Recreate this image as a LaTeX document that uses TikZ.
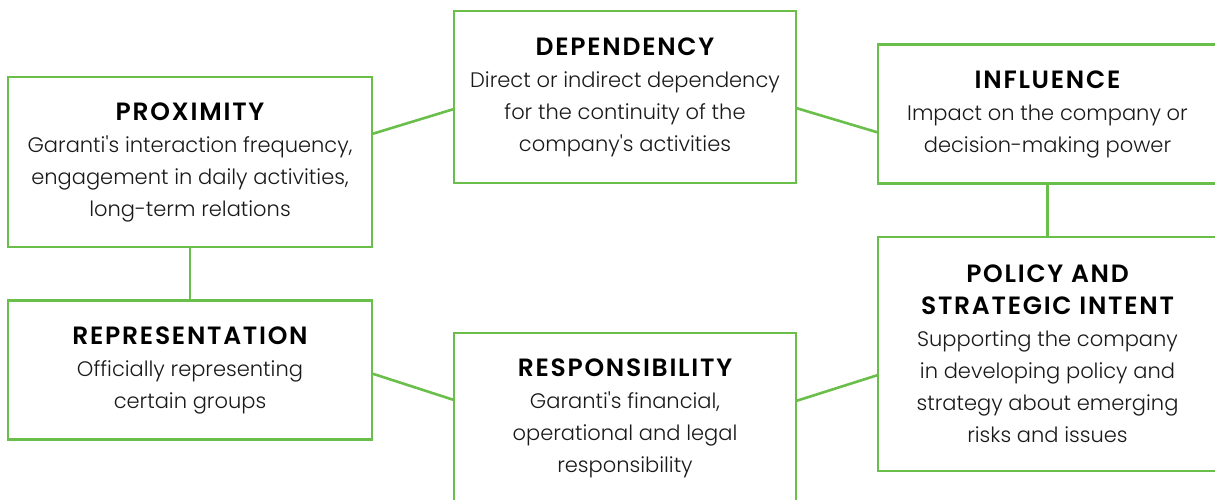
\documentclass[tikz,border=0pt]{standalone}
\usepackage{fontspec}
\IfFontExistsTF{Poppins Light}
  {\setmainfont{Poppins Light}[BoldFont=Poppins SemiBold]}
  {\setmainfont{Poppins}}
\IfFontExistsTF{Poppins SemiBold}
  {\newfontfamily\headfont{Poppins SemiBold}[LetterSpace=7]}
  {\newfontfamily\headfont{Poppins}[LetterSpace=7,UprightFont=*,BoldFont=* Bold]}
\definecolor{linkgreen}{RGB}{106,191,75}
\definecolor{bodytext}{RGB}{25,25,25}
\newcommand\boxtitle[1]{{\headfont\fontsize{25}{32}\selectfont\color{black}#1}}
\newcommand\apos{\textquotesingle}

\begin{document}
\begin{tikzpicture}[x=1pt,y=-1pt,
  box/.style={draw=linkgreen, line width=2.6pt, fill=white, outer sep=0pt,
    inner sep=0pt, align=center, text=bodytext,
    font=\fontsize{21}{32}\selectfont},
  link/.style={draw=linkgreen, line width=2.6pt}]
\useasboundingbox (0,0) rectangle (1215,500);
\clip (0,0) rectangle (1215,500);

% the six criteria
\node[box, minimum width=364, minimum height=170] (prox) at (190,162)
  {\boxtitle{PROXIMITY}\\ Garanti\apos s interaction frequency,\\ engagement in daily activities,\\ long-term relations};
\node[box, minimum width=342, minimum height=172] (dep) at (625,97)
  {\boxtitle{DEPENDENCY}\\ Direct or indirect dependency\\ for the continuity of the\\ company\apos s activities};
\node[box, minimum width=339, minimum height=139] (inf) at (1047.5,114)
  {\boxtitle{INFLUENCE}\\ Impact on the company or\\ decision-making power};
\node[box, minimum width=339, minimum height=234] (pol) at (1047.5,354)
  {\boxtitle{POLICY AND}\\ \boxtitle{STRATEGIC INTENT}\\ Supporting the company\\ in developing policy and\\ strategy about emerging\\ risks and issues};
\node[box, minimum width=342, minimum height=170] (resp) at (625,418)
  {\boxtitle{RESPONSIBILITY}\\ Garanti\apos s financial,\\ operational and legal\\ responsibility};
\node[box, minimum width=364, minimum height=139] (rep) at (190,370)
  {\boxtitle{REPRESENTATION}\\ Officially representing\\ certain groups};

% connectors forming the ring
\draw[link] ([yshift=-57pt]prox.north east) -- ([yshift=-98pt]dep.north west);
\draw[link] ([yshift=-97pt]dep.north east) -- ([yshift=-88pt]inf.north west);
\draw[link] (inf.south) -- (pol.north);
\draw[link] ([yshift=-138pt]pol.north west) -- ([yshift=-68pt]resp.north east);
\draw[link] ([yshift=-67pt]resp.north west) -- ([yshift=-73pt]rep.north east);
\draw[link] (rep.north) -- (prox.south);
\end{tikzpicture}
\end{document}
